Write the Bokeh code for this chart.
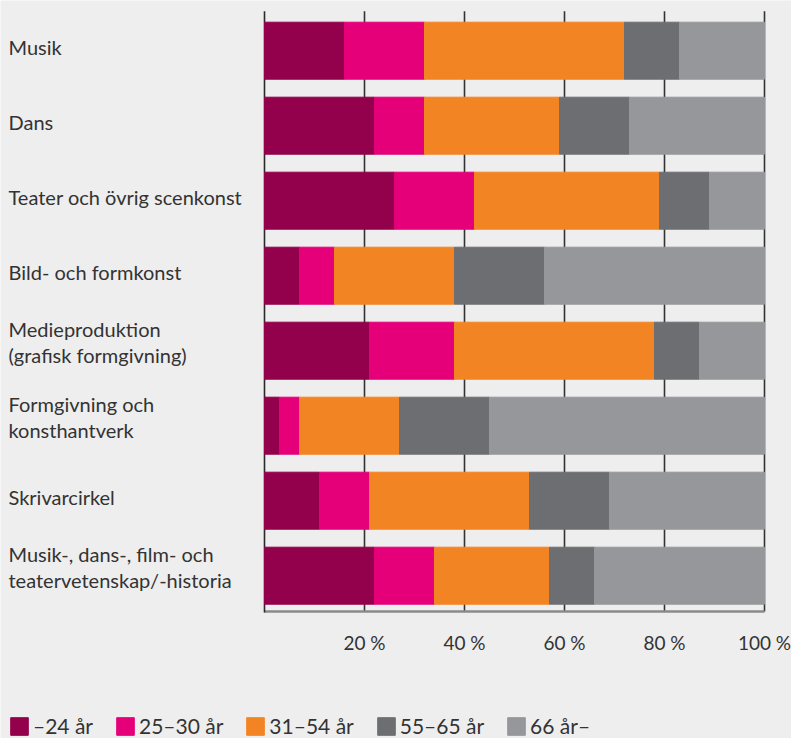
from bokeh.plotting import figure
from bokeh.models import ColumnDataSource, Range1d
from bokeh.core.properties import value
from bokeh.embed import file_html
from bokeh.resources import INLINE

# ---------------- data ----------------
categories = [
    "Musik",
    "Dans",
    "Teater och övrig scenkonst",
    "Bild- och formkonst",
    "Medieproduktion\n(grafisk formgivning)",
    "Formgivning och\nkonsthantverk",
    "Skrivarcirkel",
    "Musik-, dans-, film- och\nteatervetenskap/-historia",
]
age_groups = ["–24 år", "25–30 år", "31–54 år", "55–65 år", "66 år–"]
share_u24 = [16, 22, 26, 7, 21, 3, 11, 22]
share_25_30 = [16, 10, 16, 7, 17, 4, 10, 12]
share_31_54 = [40, 27, 37, 24, 40, 20, 32, 23]
share_55_65 = [11, 14, 10, 18, 9, 18, 16, 9]
share_66 = [17, 27, 11, 44, 13, 55, 31, 34]
tick_values = [20, 40, 60, 80, 100]
tick_labels = ["20 %", "40 %", "60 %", "80 %", "100 %"]

colors = ["#93004b", "#e5007a", "#f38423", "#6d6e71", "#96979a"]
BG = "#eeeeee"
TEXT = "#333333"
FONT = "Lato"

# ---------------- layout (pixels within the figure) ----------------
W, H = 791, 738
X0_PX = 264          # where 0 % sits
PX_PER_PCT = 5       # pixels per percent
LABEL_X_PX = 8
ROW0_PX = 50.2       # centre of first bar
PITCH = 75           # distance between bar centres
BAR_PX = 57          # bar thickness
GRID_TOP_PX = 10.7
AXIS_PX = 611
TICK_MID_PX = 642


def ypx(px):
    return (px - ROW0_PX) / PITCH


def xpx(px):
    return (px - X0_PX) / PX_PER_PCT


x_range = Range1d(xpx(0), xpx(W))
y_range = Range1d(start=ypx(H), end=ypx(0))

p = figure(
    width=W, height=H, x_range=x_range, y_range=y_range,
    output_backend="svg", toolbar_location=None,
    x_axis_location=None, y_axis_location=None,
    min_border=0, background_fill_color=BG, border_fill_color=BG,
    outline_line_color=None,
)
p.grid.visible = False

# grid lines (behind the bars)
p.segment(x0=tick_values, y0=ypx(GRID_TOP_PX), x1=tick_values, y1=ypx(AXIS_PX),
          line_color="#333333", line_width=1.6)
# bottom axis line
p.segment(x0=[0], y0=[ypx(AXIS_PX)], x1=[100], y1=[ypx(AXIS_PX)],
          line_color="#8a8a8a", line_width=2.5)
# left axis line
p.segment(x0=[0], y0=[ypx(GRID_TOP_PX)], x1=[0], y1=[ypx(AXIS_PX + 1)],
          line_color="#2a2a2a", line_width=1.6)

src = ColumnDataSource(dict(
    y=list(range(len(categories))),
    a=share_u24, b=share_25_30, c=share_31_54, d=share_55_65, e=share_66,
))
p.hbar_stack(["a", "b", "c", "d", "e"], y="y", height=BAR_PX / PITCH,
             color=colors, source=src, legend_label=age_groups)

# category labels (two-line labels sit a little higher)
label_src = ColumnDataSource(dict(
    x=[xpx(LABEL_X_PX)] * len(categories),
    y=list(range(len(categories))),
    text=categories,
    dy=[-9 if "\n" in c else -4 for c in categories],
))
p.text(x="x", y="y", text="text", y_offset="dy", source=label_src,
       text_font=value(FONT), text_font_size="20px",
       text_color=TEXT, text_align="left", text_baseline="middle",
       text_line_height=1.1)

# tick labels
p.text(x=tick_values, y=[ypx(TICK_MID_PX)] * len(tick_values), text=tick_labels,
       text_font=value(FONT), text_font_size="19px", text_color=TEXT,
       text_align="center", text_baseline="middle")

leg = p.legend[0]
leg.orientation = "horizontal"
leg.location = (8, 0)
leg.background_fill_alpha = 0
leg.border_line_color = None
leg.padding = 0
leg.margin = 0
leg.spacing = 21
leg.glyph_width = 22
leg.glyph_height = 22
leg.label_height = 22
leg.label_standoff = 3
leg.label_text_font = FONT
leg.label_text_font_size = "21px"
leg.label_text_color = TEXT

open("out.html", "w").write(file_html(p, INLINE))
